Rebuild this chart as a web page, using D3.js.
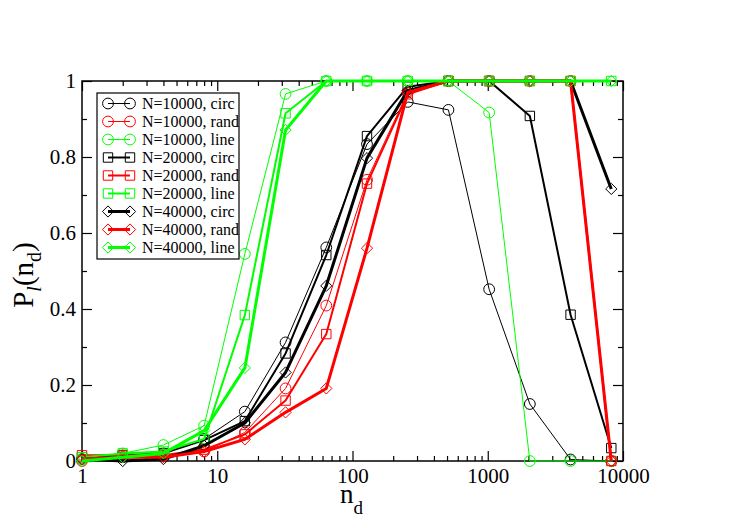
<!DOCTYPE html>
<html>
<head>
<meta charset="utf-8">
<script src="https://cdn.jsdelivr.net/npm/d3@7"></script>
<style>
  body { margin: 0; background: #fff; }
  svg { display: block; }
  svg text { font-family: "Liberation Serif", "Times New Roman", Times, serif; }
</style>
</head>
<body>
<div id="chart"></div>
<script>
// n_d values (x axis, log scale)
const nd = [1, 2, 4, 8, 16, 32, 64, 128, 256, 512, 1024, 2048, 4096, 8192];

// P_l(n_d) per series
const circ10k = [0.005, 0.01, 0.02, 0.058, 0.13, 0.312, 0.562, 0.834, 0.945, 0.924, 0.452, 0.15, 0.004, 0];
const rand10k = [0.0, 0.015, 0.015, 0.025, 0.075, 0.191, 0.409, 0.74, 0.97, 1, 1, 1, 1, 0];
const line10k = [0.005, 0.02, 0.042, 0.093, 0.545, 0.966, 1, 1, 1, 1, 0.917, 0, 0, 0];
const circ20k = [0.01, 0.015, 0.02, 0.055, 0.105, 0.283, 0.542, 0.855, 0.985, 1, 1, 0.908, 0.385, 0.034];
const rand20k = [0.015, 0.015, 0.015, 0.03, 0.07, 0.159, 0.334, 0.73, 0.965, 1, 1, 1, 1, 0];
const line20k = [0.01, 0.02, 0.025, 0.058, 0.384, 0.915, 1, 1, 1, 1, 1, 1, 1, 1];
const circ40k = [0.005, 0, 0.005, 0.04, 0.1, 0.233, 0.461, 0.797, 0.975, 1, 1, 1, 1, 0.716];
const rand40k = [0.005, 0.01, 0.01, 0.025, 0.057, 0.128, 0.191, 0.56, 0.97, 1, 1, 1, 1, 0];
const line40k = [0, 0.01, 0.02, 0.08, 0.245, 0.871, 1, 1, 1, 1, 1, 1, 1, 1];

const seriesLabels = [
  'N=10000, circ', 'N=10000, rand', 'N=10000, line',
  'N=20000, circ', 'N=20000, rand', 'N=20000, line',
  'N=40000, circ', 'N=40000, rand', 'N=40000, line'
];
const seriesValues = [circ10k, rand10k, line10k, circ20k, rand20k, line20k, circ40k, rand40k, line40k];

const xMajor = [1, 10, 100, 1000, 10000];
const yMajor = [0, 0.2, 0.4, 0.6, 0.8, 1];

// style per series (colour by layout, marker + width by N)
const colors = ['#000000', '#ff0000', '#00ff00'];
const shapes = ['circle', 'square', 'diamond'];
const widths = [1, 2, 3];

const W = 747, H = 528;
const plot = { left: 82, right: 623, top: 81, bottom: 461 };

const svg = d3.select('#chart')
  .append('svg')
  .attr('width', W)
  .attr('height', H);

const x = d3.scaleLog().domain([1, 10000]).range([plot.left, plot.right]);
const y = d3.scaleLinear().domain([0, 1]).range([plot.bottom, plot.top]);

// minor ticks
const xMinor = [];
for (let d = 1; d < 10000; d *= 10) {
  for (let k = 2; k <= 9; k++) xMinor.push(d * k);
}
const yMinor = [0.1, 0.3, 0.5, 0.7, 0.9];

// marker path generator
function markerPath(shape) {
  if (shape === 'circle') return d3.symbol().type(d3.symbolCircle).size(Math.PI * 5.4 * 5.4)();
  if (shape === 'square') return 'M-4.7,-4.7H4.7V4.7H-4.7Z';
  return 'M0,-5.6L5.6,0L0,5.6L-5.6,0Z';
}

// axes: bottom and left with labels, top and right plain; all ticks point inward
function styleAxis(g) {
  g.attr('font-family', null);
  g.select('.domain').remove();
  g.selectAll('line').attr('stroke', '#000').attr('stroke-width', 1.2);
  g.selectAll('text').attr('fill', '#000').style('font-size', '21px');
}

svg.append('g')
  .attr('transform', `translate(0,${plot.bottom})`)
  .call(d3.axisBottom(x).tickValues(xMajor).tickSize(-10).tickPadding(7).tickFormat(d3.format('d')))
  .call(styleAxis);
svg.append('g')
  .attr('transform', `translate(0,${plot.bottom})`)
  .call(d3.axisBottom(x).tickValues(xMinor).tickSize(-5).tickFormat(''))
  .call(styleAxis);
svg.append('g')
  .attr('transform', `translate(0,${plot.top})`)
  .call(d3.axisTop(x).tickValues(xMajor).tickSize(-10).tickFormat(''))
  .call(styleAxis);
svg.append('g')
  .attr('transform', `translate(0,${plot.top})`)
  .call(d3.axisTop(x).tickValues(xMinor).tickSize(-5).tickFormat(''))
  .call(styleAxis);

svg.append('g')
  .attr('transform', `translate(${plot.left},0)`)
  .call(d3.axisLeft(y).tickValues(yMajor).tickSize(-10).tickPadding(6).tickFormat(d3.format('~g')))
  .call(styleAxis);
svg.append('g')
  .attr('transform', `translate(${plot.left},0)`)
  .call(d3.axisLeft(y).tickValues(yMinor).tickSize(-5).tickFormat(''))
  .call(styleAxis);
svg.append('g')
  .attr('transform', `translate(${plot.right},0)`)
  .call(d3.axisRight(y).tickValues(yMajor).tickSize(-10).tickFormat(''))
  .call(styleAxis);
svg.append('g')
  .attr('transform', `translate(${plot.right},0)`)
  .call(d3.axisRight(y).tickValues(yMinor).tickSize(-5).tickFormat(''))
  .call(styleAxis);

// frame
svg.append('rect')
  .attr('x', plot.left).attr('y', plot.top)
  .attr('width', plot.right - plot.left).attr('height', plot.bottom - plot.top)
  .attr('fill', 'none').attr('stroke', '#000').attr('stroke-width', 1.5);

// series lines + markers
const line = d3.line().x((d) => x(d[0])).y((d) => y(d[1]));

seriesValues.forEach((vals, i) => {
  const color = colors[i % 3];
  const shape = shapes[Math.floor(i / 3)];
  const width = widths[Math.floor(i / 3)];
  const pts = nd.map((n, j) => [n, vals[j]]);

  const g = svg.append('g');
  g.append('path')
    .datum(pts)
    .attr('d', line)
    .attr('fill', 'none')
    .attr('stroke', color)
    .attr('stroke-width', width)
    .attr('stroke-linejoin', 'round');

  g.selectAll('path.m')
    .data(pts)
    .join('path')
    .attr('class', 'm')
    .attr('d', markerPath(shape))
    .attr('transform', (d) => `translate(${x(d[0])},${y(d[1])})`)
    .attr('fill', 'none')
    .attr('stroke', color)
    .attr('stroke-width', 1);
});

// legend
const legend = svg.append('g').attr('class', 'legend');
legend.append('rect')
  .attr('x', 97).attr('y', 93)
  .attr('width', 142).attr('height', 166)
  .attr('fill', '#fff')
  .attr('stroke', '#000')
  .attr('stroke-width', 1.2);

seriesLabels.forEach((label, i) => {
  const ly = 103.5 + i * 18;
  const color = colors[i % 3];
  const shape = shapes[Math.floor(i / 3)];
  const width = widths[Math.floor(i / 3)];
  legend.append('line')
    .attr('x1', 108).attr('x2', 130)
    .attr('y1', ly).attr('y2', ly)
    .attr('stroke', color).attr('stroke-width', width);
  [108, 130].forEach((mx) => {
    legend.append('path')
      .attr('d', markerPath(shape))
      .attr('transform', `translate(${mx},${ly})`)
      .attr('fill', 'none')
      .attr('stroke', color)
      .attr('stroke-width', 1);
  });
  legend.append('text')
    .attr('x', 142)
    .attr('y', ly + 5.5)
    .style('font-size', '16px')
    .text(label);
});

// axis titles
const xt = svg.append('text')
  .attr('x', 340)
  .attr('y', 503)
  .style('font-size', '27px');
xt.append('tspan').text('n');
xt.append('tspan').attr('dy', 11).style('font-size', '19px').text('d');

const yt = svg.append('text')
  .attr('transform', 'translate(33,275) rotate(-90)')
  .attr('text-anchor', 'middle')
  .style('font-size', '29px');
yt.append('tspan').text('P');
yt.append('tspan').attr('dy', 8).style('font-size', '20px').style('font-style', 'italic').text('l');
yt.append('tspan').attr('dy', -8).text('(n');
yt.append('tspan').attr('dy', 8).style('font-size', '20px').text('d');
yt.append('tspan').attr('dy', -8).text(')');
</script>
</body>
</html>
